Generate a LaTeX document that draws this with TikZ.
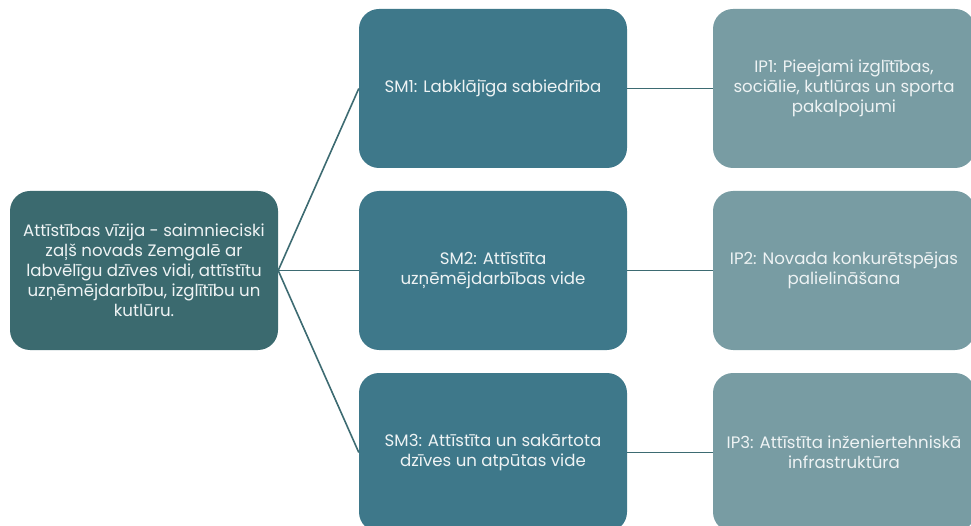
\documentclass[tikz,border=0pt]{standalone}
\usepackage{fontspec}
\setmainfont{Poppins}
\definecolor{rootfill}{HTML}{3B6A6F}
\definecolor{smfill}{HTML}{3E788A}
\definecolor{ipfill}{HTML}{789CA3}
\definecolor{linecol}{HTML}{3D6B72}
\definecolor{txt}{HTML}{EEF3F4}
\begin{document}
\begin{tikzpicture}[x=1pt,y=-1pt,
  box/.style={rounded corners=20pt, minimum width=268pt, minimum height=159pt, inner sep=0pt, align=center, text=txt, font=\fontsize{16.6}{20}\selectfont},
  rootbox/.style={box, fill=rootfill},
  smbox/.style={box, fill=smfill},
  ipbox/.style={box, fill=ipfill, minimum width=262pt},
  conn/.style={draw=linecol, line width=1.6pt}]
\useasboundingbox (0,0) rectangle (971,526);
\clip (0,0) rectangle (971,526);
\node[rootbox] (root) at (144,270.5) {Attīstības vīzija - saimnieciski\\zaļš novads Zemgalē ar\\labvēlīgu dzīves vidi, attīstītu\\uzņēmējdarbību, izglītību un\\kutlūru.};
\node[smbox] (sm1) at (493,88.5) {SM1: Labklājīga sabiedrība};
\node[smbox] (sm2) at (493,270.5) {SM2: Attīstīta\\uzņēmējdarbības vide};
\node[smbox] (sm3) at (493,452.5) {SM3: Attīstīta un sakārtota\\dzīves un atpūtas vide};
\node[ipbox] (ip1) at (844,88.5) {IP1: Pieejami izglītības,\\sociālie, kutlūras un sporta\\pakalpojumi};
\node[ipbox] (ip2) at (844,270.5) {IP2: Novada konkurētspējas\\palielināšana};
\node[ipbox] (ip3) at (844,452.5) {IP3: Attīstīta inženiertehniskā\\infrastruktūra};
\draw[conn] (root.east) -- (sm1.west);
\draw[conn] (root.east) -- (sm2.west);
\draw[conn] (root.east) -- (sm3.west);
\draw[conn] (sm1.east) -- (ip1.west);
\draw[conn] (sm2.east) -- (ip2.west);
\draw[conn] (sm3.east) -- (ip3.west);
\end{tikzpicture}
\end{document}
